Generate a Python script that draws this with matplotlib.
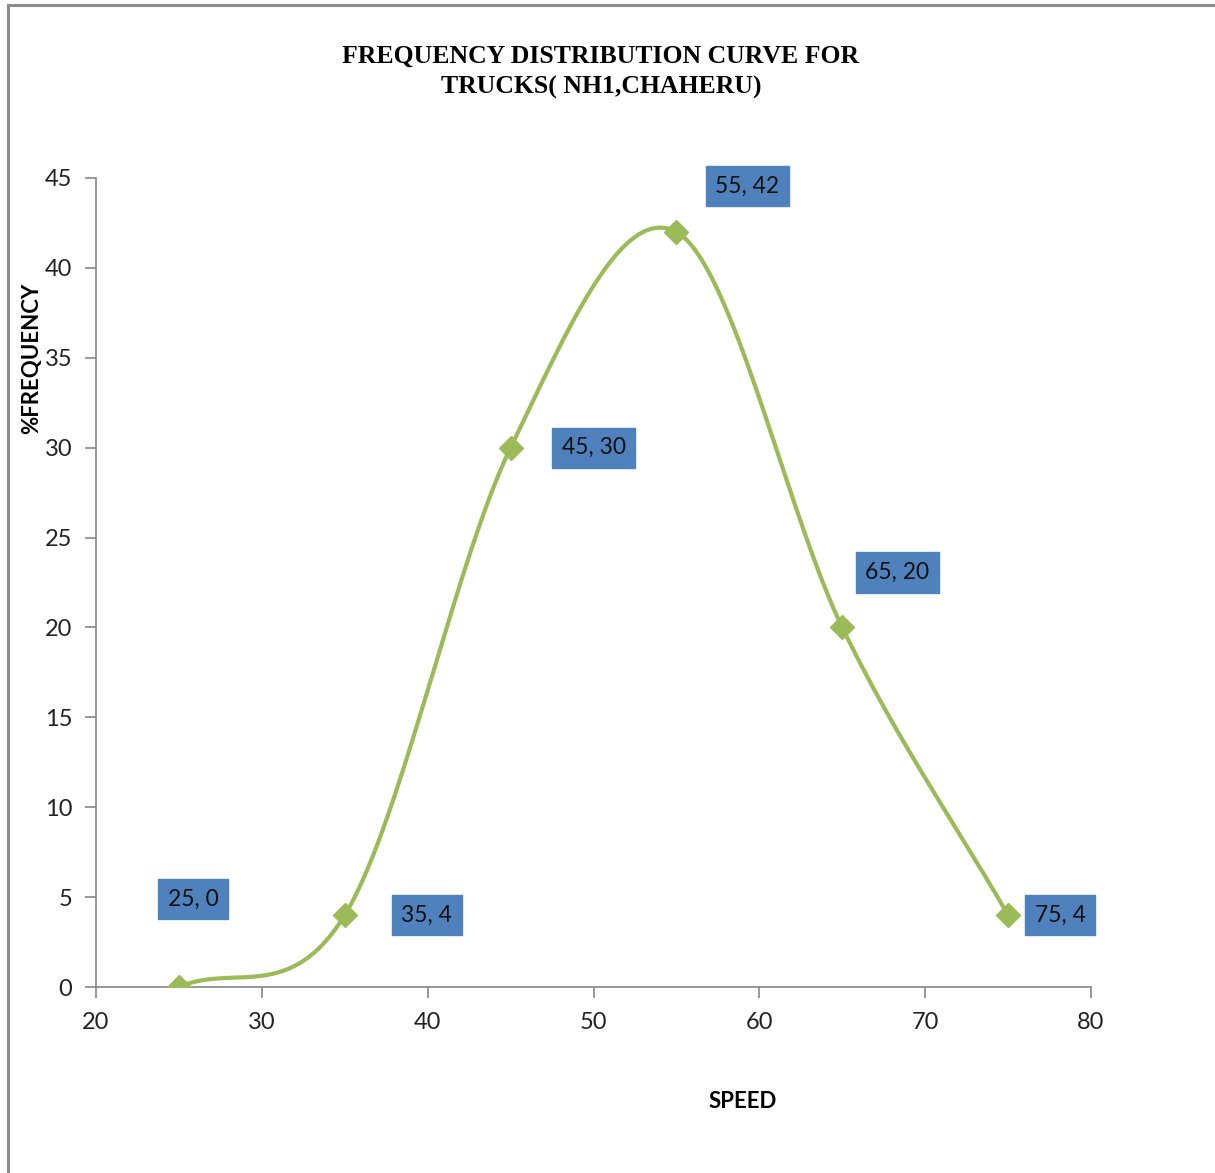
import matplotlib.pyplot as plt
import numpy as np
from matplotlib.lines import Line2D

# speed classes and % frequency for trucks
speed = [25, 35, 45, 55, 65, 75]
freq = [0, 4, 30, 42, 20, 4]
labels = ["25, 0", "35, 4", "45, 30", "55, 42", "65, 20", "75, 4"]
# label offsets in pixels (dx, dy) from each point
label_off = [(14, 88), (82, 0), (83, 0), (71, 46), (55, 55), (52, 0)]

xticks = [20, 30, 40, 50, 60, 70, 80]
yticks = [0, 5, 10, 15, 20, 25, 30, 35, 40, 45]

plt.rcParams['font.family'] = ['Lato', 'DejaVu Sans']

fig = plt.figure(figsize=(12.15, 11.73), dpi=100)
ax = fig.add_axes([96 / 1215, 1 - 987 / 1173, 995 / 1215, 809 / 1173])
ax.set_xlim(20, 80)
ax.set_ylim(0, 45)


def smooth(xs, ys, n=60):
    """bezier smoothing through the points (screen space), like a spreadsheet smoothed line"""
    pts = ax.transData.transform(np.column_stack([xs, ys]))
    # mirror the end points so the end tangents aim at the neighbours
    pts = np.vstack([2 * pts[0] - pts[1], pts, 2 * pts[-1] - pts[-2]])
    out = []
    for i in range(1, len(pts) - 2):
        p0, p1, p2, p3 = pts[i - 1], pts[i], pts[i + 1], pts[i + 2]
        c1 = p1 + (p2 - p0) / 6.0
        c2 = p2 - (p3 - p1) / 6.0
        t = np.linspace(0, 1, n)[:, None]
        seg = ((1 - t) ** 3) * p1 + 3 * ((1 - t) ** 2) * t * c1 + 3 * (1 - t) * t ** 2 * c2 + t ** 3 * p2
        out.append(seg if i == 1 else seg[1:])
    out = np.vstack(out)
    back = ax.transData.inverted().transform(out)
    return back[:, 0], back[:, 1]


green = '#9BBB59'
sx, sy = smooth(speed, freq)
ax.plot(sx, sy, color=green, lw=3.0, solid_capstyle='round', zorder=3)
ax.plot(speed, freq, linestyle='none', marker='D', markersize=12, color=green, zorder=4)

for x, y, lab, off in zip(speed, freq, labels, label_off):
    ax.annotate(lab, (x, y), xytext=off, textcoords='offset pixels',
                ha='center', va='center', fontsize=16.5, color='#111111',
                bbox=dict(boxstyle='square,pad=0.42', fc='#4F81BD', ec='#4F81BD'),
                zorder=5)

ax.set_xticks(xticks)
ax.set_yticks(yticks)
for s in ['top', 'right']:
    ax.spines[s].set_visible(False)
for s in ['left', 'bottom']:
    ax.spines[s].set_color('#868686')
    ax.spines[s].set_linewidth(1.2)
ax.tick_params(direction='out', length=8, width=1.2, color='#868686',
               labelsize=17, labelcolor='#222222')
ax.tick_params(axis='x', pad=10)
ax.tick_params(axis='y', pad=9)

ax.set_xlabel('SPEED', fontsize=16, fontweight='bold', labelpad=0)
ax.xaxis.set_label_coords((743 - 96) / 995, -(1091 - 987) / 809)
ax.set_ylabel('%FREQUENCY', fontsize=16, fontweight='bold')
ax.yaxis.set_label_coords(-(96 - 42) / 995, (987 - 358) / 809)

fig.text(601 / 1215, 1 - 72 / 1173, 'FREQUENCY DISTRIBUTION CURVE FOR\nTRUCKS( NH1,CHAHERU)',
         ha='center', va='center', fontsize=18.5, fontweight='bold',
         family='Liberation Serif', linespacing=1.4)

# chart area border (left and top edges)
fig.add_artist(Line2D([8 / 1215, 8 / 1215], [0, 1 - 5 / 1173], color='#8C8C8C', lw=2.2))
fig.add_artist(Line2D([8 / 1215, 1], [1 - 5 / 1173, 1 - 5 / 1173], color='#8C8C8C', lw=2.2))

fig.savefig('out.png', dpi=100)
